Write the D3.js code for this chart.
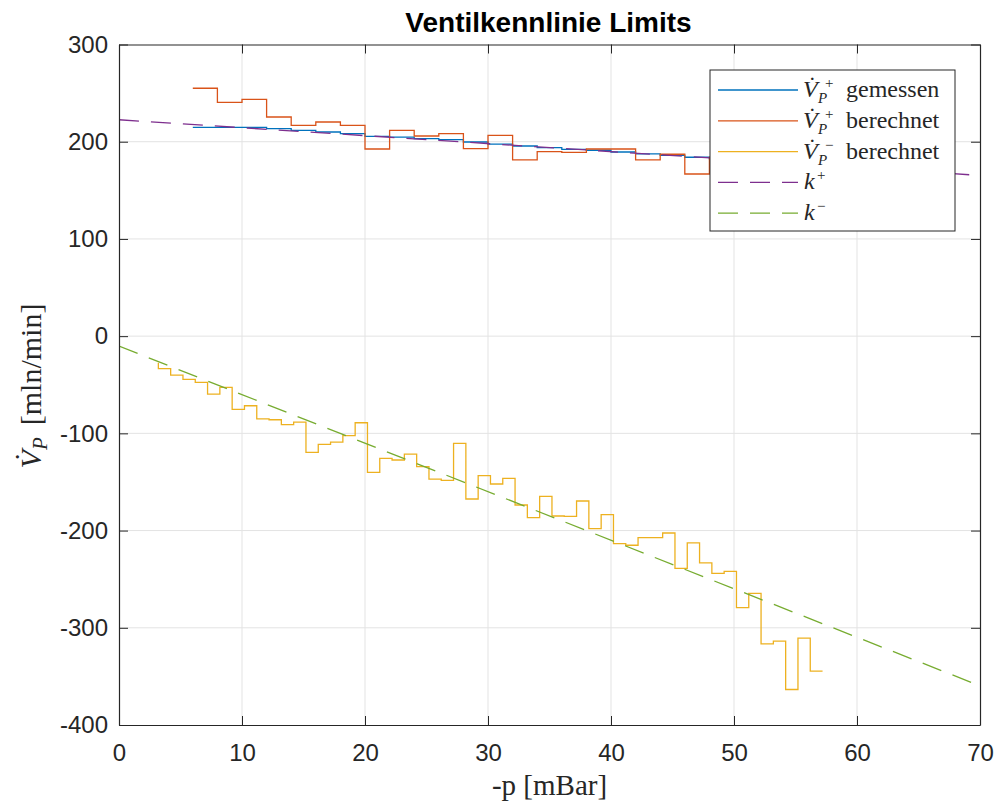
<!DOCTYPE html>
<html>
<head>
<meta charset="utf-8">
<script src="https://cdn.jsdelivr.net/npm/d3@7"></script>
<style>
  body { margin: 0; background: #fff; }
  text { fill: #262626; }
</style>
</head>
<body>
<svg id="chart" width="996" height="805"></svg>
<script>
// ticks
const xTicks = [0, 10, 20, 30, 40, 50, 60, 70]
const yTicks = [-400, -300, -200, -100, 0, 100, 200, 300]

// V_P^+ gemessen (stairs)
const gemessenX = [6, 8, 10, 12, 14, 16, 18, 20, 22, 24, 26, 28, 30, 32, 34, 36, 38, 40, 42, 44, 46, 48, 50]
const gemessenY = [214.8, 214.8, 214.8, 214.8, 213.4, 211.7, 210.0, 208.3, 205.5, 204.8, 203.2, 202.2, 199.7, 197.5, 195.6, 193.9, 192.2, 191.2, 189.4, 187.4, 186.0, 184.0, 182.5]

// V_P^+ berechnet
const plusX = [6, 8, 10, 12, 14, 16, 18, 20, 22, 24, 26, 28, 30, 32, 34, 36, 38, 40, 42, 44, 46, 48, 50]
const plusY = [255, 255, 240.5, 243.6, 225.4, 216.9, 220.3, 216.9, 192.5, 211.7, 205.9, 208.3, 192.9, 206.6, 181.4, 189.8, 189.1, 192.5, 192.5, 181.4, 187.1, 166.8, 184]

// V_P^- berechnet
const minusX = [3.2, 4.2, 5.2, 6.2, 7.2, 8.2, 9.2, 10.2, 11.2, 12.2, 13.2, 14.2, 15.2, 16.2, 17.2, 18.2, 19.2, 20.2, 21.2, 22.2,
  23.2, 24.2, 25.2, 26.2, 27.2, 28.2, 29.2, 30.2, 31.2, 32.2, 33.2, 34.2, 35.2, 36.2, 37.2, 38.2, 39.2, 40.2, 41.2, 42.2,
  43.2, 44.2, 45.2, 46.2, 47.2, 48.2, 49.2, 50.2, 51.2, 52.2, 53.2, 54.2, 55.2, 56.2, 57.2]
const minusY = [-27.4, -33.5, -40.1, -44.5, -47.6, -59.6, -52.8, -75.4, -71.6, -85.0, -86.0, -91.1, -88.4, -119.6, -111.3, -109.0, -102.4, -89.1, -140.1, -125.7,
  -127.4, -121.3, -134.3, -147.0, -148.3, -110.3, -167.5, -143.5, -152.1, -146.3, -173.7, -186.7, -164.8, -185.0, -185.3, -169.6, -198.0, -183.6, -213.4, -215.1,
  -207.2, -207.2, -202.5, -238.8, -212.6, -233.3, -244.1, -241.9, -279.2, -264.5, -316.5, -313.8, -363.5, -310.7, -344.6]

// Kennlinien k+ / k-
const kX = [0, 70]
const kPlusY = [222.6, 165.3]
const kMinusY = [-10.2, -359.7]

const svg = d3.select('#chart')

let mLeft = 119, mRight = 980, mTop = 44.5, mBottom = 725

let x = d3.scaleLinear().domain([0, 70]).range([mLeft, mRight])
let y = d3.scaleLinear().domain([-400, 300]).range([mBottom, mTop])

const colors = {
  blue: '#0072bd',
  orange: '#d95319',
  yellow: '#edb120',
  purple: '#7e2f8e',
  green: '#77ac30'
}

// grid
svg.append('g')
  .selectAll('line')
  .data(xTicks.slice(1, -1))
  .enter()
  .append('line')
  .attr('x1', d => x(d)).attr('x2', d => x(d))
  .attr('y1', mTop).attr('y2', mBottom)
  .attr('stroke', '#e3e3e3').attr('stroke-width', 1)

svg.append('g')
  .selectAll('line')
  .data(yTicks.slice(1, -1))
  .enter()
  .append('line')
  .attr('x1', mLeft).attr('x2', mRight)
  .attr('y1', d => y(d)).attr('y2', d => y(d))
  .attr('stroke', '#e3e3e3').attr('stroke-width', 1)

svg.append('clipPath').attr('id', 'clip')
  .append('rect')
  .attr('x', mLeft).attr('y', mTop)
  .attr('width', mRight - mLeft).attr('height', mBottom - mTop)

let stairs = d3.line()
  .x(d => x(d[0]))
  .y(d => y(d[1]))
  .curve(d3.curveStepBefore)

let straight = d3.line()
  .x(d => x(d[0]))
  .y(d => y(d[1]))

let zip = (a, b) => a.map((v, i) => [v, b[i]])

let plot = svg.append('g').attr('clip-path', 'url(#clip)')

plot.append('path')
  .attr('d', stairs(zip(gemessenX, gemessenY)))
  .attr('fill', 'none').attr('stroke', colors.blue).attr('stroke-width', 1.3)

plot.append('path')
  .attr('d', stairs(zip(plusX, plusY)))
  .attr('fill', 'none').attr('stroke', colors.orange).attr('stroke-width', 1.3)

plot.append('path')
  .attr('d', stairs(zip(minusX, minusY)))
  .attr('fill', 'none').attr('stroke', colors.yellow).attr('stroke-width', 1.3)

plot.append('path')
  .attr('d', straight(zip(kX, kPlusY)))
  .attr('fill', 'none').attr('stroke', colors.purple).attr('stroke-width', 1.3)
  .attr('stroke-dasharray', '20,12')

plot.append('path')
  .attr('d', straight(zip(kX, kMinusY)))
  .attr('fill', 'none').attr('stroke', colors.green).attr('stroke-width', 1.3)
  .attr('stroke-dasharray', '20,12')

// axes (box, ticks inside)
let axisStyle = function (g) {
  g.select('.domain').attr('stroke', '#262626').attr('stroke-width', 1.2)
  g.selectAll('.tick line').attr('stroke', '#262626').attr('stroke-width', 1)
  g.selectAll('.tick text')
    .style('font-family', '"Liberation Sans", Arial, sans-serif')
    .style('font-size', '24px')
    .attr('fill', '#262626')
}

// plain hyphen minus like in the original
let fmt = d => String(d)

svg.append('g')
  .attr('transform', `translate(0,${mBottom})`)
  .call(d3.axisBottom(x).tickValues(xTicks).tickSizeInner(-9).tickSizeOuter(0).tickPadding(19).tickFormat(fmt))
  .call(axisStyle)

svg.append('g')
  .attr('transform', `translate(0,${mTop})`)
  .call(d3.axisTop(x).tickValues(xTicks).tickSizeInner(-9).tickSizeOuter(0).tickFormat(''))
  .call(axisStyle)

svg.append('g')
  .attr('transform', `translate(${mLeft},0)`)
  .call(d3.axisLeft(y).tickValues(yTicks).tickSizeInner(-9).tickSizeOuter(0).tickPadding(11).tickFormat(fmt))
  .call(axisStyle)

svg.append('g')
  .attr('transform', `translate(${mRight},0)`)
  .call(d3.axisRight(y).tickValues(yTicks).tickSizeInner(-9).tickSizeOuter(0).tickFormat(''))
  .call(axisStyle)

// title
svg.append('text')
  .attr('x', (mLeft + mRight) / 2 - 1)
  .attr('y', 32)
  .attr('text-anchor', 'middle')
  .style('font-family', '"Liberation Sans", Arial, sans-serif')
  .style('font-size', '28px')
  .style('font-weight', 'bold')
  .style('fill', '#000')
  .text('Ventilkennlinie Limits')

// axis labels (serif, latex look)
let serif = '"Liberation Serif", "DejaVu Serif", serif'

svg.append('text')
  .attr('x', (mLeft + mRight) / 2)
  .attr('y', 795)
  .attr('text-anchor', 'middle')
  .style('font-family', serif)
  .style('font-size', '29px')
  .text('-p [mBar]')

let yl = svg.append('text')
  .attr('transform', 'translate(41,386) rotate(-90)')
  .attr('text-anchor', 'middle')
  .style('font-family', serif)
  .style('font-size', '30px')
yl.append('tspan').style('font-style', 'italic').text('V\u0307')
yl.append('tspan').style('font-style', 'italic').style('font-size', '21px').attr('dy', 6).text('P')
yl.append('tspan').attr('dy', -6).attr('dx', 12).text('[mln/min]')

// legend
const legendNames = ['gemessen', 'berechnet', 'berechnet', '', '']
const legendSup = ['+', '+', '\u2212', '+', '\u2212']
const legendColors = [colors.blue, colors.orange, colors.yellow, colors.purple, colors.green]
const legendDash = [null, null, null, '20,12', '20,12']

let lg = svg.append('g')
lg.append('rect')
  .attr('x', 710).attr('y', 70)
  .attr('width', 245).attr('height', 161)
  .attr('fill', '#fff').attr('stroke', '#262626').attr('stroke-width', 1)

legendNames.forEach(function (name, i) {
  let ly = 90 + i * 30.8
  lg.append('line')
    .attr('x1', 718).attr('x2', 798)
    .attr('y1', ly).attr('y2', ly)
    .attr('stroke', legendColors[i]).attr('stroke-width', 1.3)
    .attr('stroke-dasharray', legendDash[i])

  let t = lg.append('text')
    .attr('y', ly + 7)
    .style('font-family', serif)
    .style('font-size', '24px')
  if (i < 3) {
    t.append('tspan').attr('x', 803).style('font-style', 'italic').text('V\u0307')
    t.append('tspan').attr('x', 846).text(name)
    // stacked super/subscript
    lg.append('text')
      .attr('x', 825).attr('y', ly - 2)
      .style('font-family', serif).style('font-size', '15px')
      .text(legendSup[i])
    lg.append('text')
      .attr('x', 818).attr('y', ly + 13)
      .style('font-family', serif).style('font-size', '15px').style('font-style', 'italic')
      .text('P')
  } else {
    t.append('tspan').attr('x', 804).style('font-style', 'italic').text('k')
    t.append('tspan').attr('x', 817).attr('dy', -9).style('font-size', '15px').text(legendSup[i])
  }
})
</script>
</body>
</html>
